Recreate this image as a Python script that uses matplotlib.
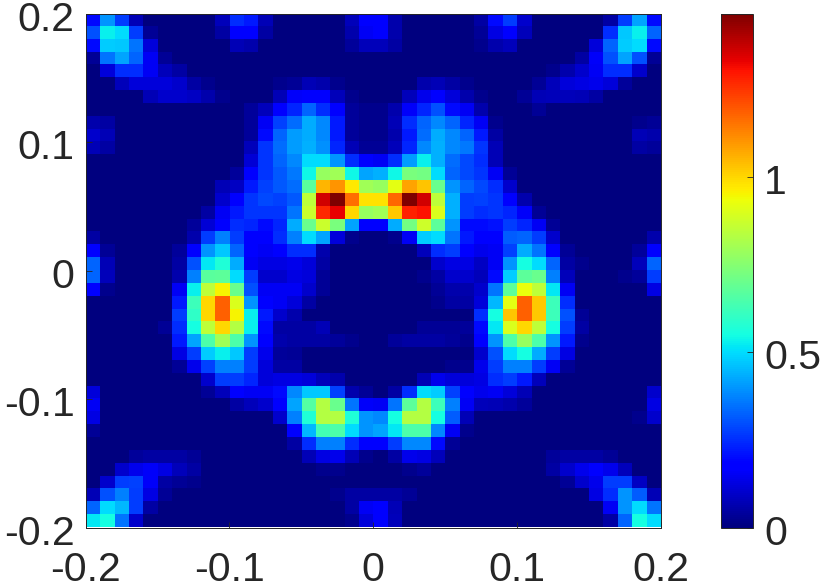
import numpy as np
import matplotlib
matplotlib.use("Agg")
import matplotlib.pyplot as plt
from matplotlib.transforms import ScaledTranslation

# Cell values in hundredths, top row first
rows = [
[20,40,27,7,0,0,0,0,0,8,25,22,7,0,0,0,0,0,8,18,18,6,0,0,0,0,0,5,20,27,10,0,0,0,0,0,5,27,42,20],
[30,53,50,27,3,0,0,0,0,5,18,18,5,0,0,0,0,0,6,15,18,6,0,0,0,0,0,3,13,17,8,0,0,0,0,0,25,47,53,33],
[20,48,47,35,12,0,0,0,0,0,7,6,0,0,0,0,0,0,4,8,8,5,0,0,0,0,0,2,6,8,0,0,0,0,0,12,33,48,50,20],
[3,35,42,33,15,3,0,0,0,0,0,0,0,0,0,0,0,0,0,0,0,0,0,0,0,0,0,0,0,0,0,0,0,0,5,16,30,42,30,3],
[0,12,25,25,15,8,5,0,0,0,0,0,0,0,0,0,0,0,0,0,0,0,0,0,0,0,0,0,0,0,0,0,2,6,10,15,25,25,10,0],
[0,0,8,12,12,12,10,5,2,0,0,0,0,2,3,7,6,2,0,0,0,0,0,6,7,5,2,0,0,0,0,3,8,12,13,14,12,4,0,0],
[0,0,0,0,7,10,10,9,6,2,0,0,0,7,16,18,18,8,2,0,0,0,8,14,18,12,6,2,0,0,3,7,8,8,7,5,0,0,0,0],
[0,0,0,0,0,0,0,0,0,0,0,4,8,18,24,33,25,18,4,2,2,6,16,24,30,20,15,6,0,0,0,3,0,0,0,0,0,0,0,0],
[6,5,0,0,0,0,0,0,0,0,0,4,15,28,34,43,38,22,4,2,2,7,25,33,38,33,24,15,2,0,0,0,0,0,0,0,0,0,2,3],
[10,7,0,0,0,0,0,0,0,0,0,4,20,33,41,43,38,22,4,2,2,6,22,34,43,38,33,22,5,0,0,0,0,0,0,0,0,0,7,6],
[7,5,0,0,0,0,0,0,0,0,0,8,26,34,41,44,39,24,7,3,3,8,24,38,44,38,36,26,7,0,0,0,0,0,0,0,0,0,5,4],
[0,0,0,0,0,0,0,0,0,0,0,11,26,33,38,50,50,40,25,17,15,25,41,53,44,34,29,25,7,0,0,0,0,0,0,0,0,0,0,0],
[0,0,0,0,0,0,0,0,0,0,4,17,26,31,36,54,78,80,54,42,44,54,73,72,50,33,29,26,15,3,0,0,0,0,0,0,0,0,0,0],
[0,0,0,0,0,0,0,0,0,7,9,22,28,31,34,67,105,110,97,80,78,92,108,103,70,40,33,29,25,10,0,0,0,0,0,0,0,0,0,0],
[0,0,0,0,0,0,0,0,0,10,17,26,29,28,31,85,136,146,116,98,98,117,146,136,85,44,27,28,26,17,6,0,0,0,0,0,0,0,0,0],
[0,0,0,0,0,0,0,0,5,15,22,26,26,26,35,87,127,133,100,78,80,102,128,130,90,44,27,25,26,24,16,3,0,0,0,0,0,0,0,0],
[0,0,0,0,0,0,0,4,11,18,25,24,20,24,43,70,87,73,42,18,18,43,72,88,68,40,20,20,21,27,24,15,3,0,0,0,0,0,0,0],
[5,0,0,0,0,0,0,6,27,37,27,18,18,25,37,50,42,12,2,0,0,2,15,48,50,35,22,18,18,32,33,27,10,0,0,0,0,0,0,6],
[17,3,0,0,0,0,4,17,40,47,33,17,15,17,25,25,6,0,0,0,0,0,0,8,25,27,17,14,15,28,43,35,18,3,0,0,0,0,4,18],
[33,7,0,0,0,0,5,30,52,57,43,15,13,13,14,12,5,0,0,0,0,0,0,0,10,13,13,9,15,40,55,50,33,5,2,0,0,0,8,33],
[33,8,0,0,0,0,6,37,67,68,50,27,10,10,13,12,3,0,0,0,0,0,0,2,5,10,10,8,20,48,68,70,37,8,0,0,0,2,4,27],
[18,2,0,0,0,0,15,53,85,95,70,30,15,15,15,10,3,0,0,0,0,0,0,0,3,6,6,10,35,68,93,85,52,15,0,0,0,0,0,13],
[0,0,0,0,0,0,22,62,100,118,90,40,18,15,12,5,0,0,0,0,0,0,0,0,2,5,5,12,45,92,118,102,62,25,0,0,0,0,0,0],
[0,0,0,0,0,0,27,60,100,118,95,53,22,10,6,0,0,0,0,0,0,0,0,0,0,0,0,25,55,103,118,102,62,30,3,0,0,0,0,0],
[0,0,0,0,0,3,25,55,85,100,83,53,20,5,5,5,7,0,0,0,0,0,0,3,3,3,4,20,52,90,100,85,55,27,5,0,0,0,0,0],
[0,0,0,0,0,0,22,42,65,80,65,40,17,6,5,5,5,4,2,0,0,4,5,5,5,4,2,17,40,65,78,65,40,22,2,0,0,0,0,0],
[0,0,0,0,0,0,13,27,48,53,47,27,14,4,3,0,0,0,0,0,0,0,0,0,0,0,0,10,30,50,55,43,27,13,0,0,0,0,0,0],
[0,0,0,0,0,0,3,14,28,37,37,27,12,5,5,0,0,0,0,0,0,0,0,0,0,2,2,14,27,37,37,27,15,3,0,0,0,0,0,0],
[0,0,0,0,0,0,0,0,10,27,27,24,12,13,13,12,8,6,0,0,0,0,0,7,14,12,12,13,25,27,22,8,0,0,0,0,0,0,0,0],
[12,0,0,0,0,0,0,0,3,8,18,15,15,20,38,47,47,28,6,3,0,5,25,50,48,28,17,14,15,12,7,0,0,0,0,0,0,0,0,10],
[15,0,0,0,0,0,0,0,0,0,5,8,10,18,42,66,83,70,35,16,15,35,68,83,62,37,15,8,7,6,4,0,0,0,0,0,0,0,0,13],
[13,0,0,0,0,0,0,0,0,0,0,0,0,10,37,57,83,83,57,40,38,55,83,83,55,32,7,0,0,0,0,0,0,0,0,0,0,0,2,10],
[3,0,0,0,0,0,0,0,0,0,0,0,0,0,17,45,63,65,50,40,42,52,65,65,38,15,2,0,0,0,0,0,0,0,0,0,0,0,0,0],
[0,0,0,0,0,0,0,0,0,0,0,0,0,0,5,25,37,37,25,18,18,27,38,38,20,3,0,0,0,0,0,0,0,0,0,0,0,0,0,0],
[0,0,0,4,5,5,5,3,0,0,0,0,0,0,0,7,13,14,7,2,0,5,14,13,8,0,0,0,0,0,0,0,4,5,5,5,3,0,0,0],
[0,0,10,14,16,13,8,5,0,0,0,0,0,0,0,0,2,2,0,0,0,0,2,4,0,0,0,0,0,0,0,0,5,10,14,17,14,8,0,0],
[0,10,27,28,16,5,3,2,0,0,0,0,0,0,0,0,0,0,0,0,0,0,0,0,0,0,0,0,0,0,0,0,0,3,10,14,27,27,9,0],
[7,30,37,27,13,3,0,0,0,0,0,0,0,0,0,0,0,2,5,5,5,5,3,0,0,0,0,0,0,0,0,0,0,0,0,13,25,40,32,7],
[33,50,45,27,5,0,0,0,0,0,0,0,0,0,0,0,0,0,5,15,17,7,0,0,0,0,0,0,0,0,0,0,0,0,0,0,15,40,50,35],
[52,55,35,10,0,0,0,0,0,0,0,0,0,0,0,0,0,0,2,12,18,8,0,0,0,0,0,0,0,0,0,0,0,0,0,0,5,33,55,50],
]
x_ticks = [-0.2, -0.1, 0, 0.1, 0.2]
y_ticks = [-0.2, -0.1, 0, 0.1, 0.2]
tick_labels = ["-0.2", "-0.1", "0", "0.1", "0.2"]
cbar_ticks = [0, 0.5, 1]
cbar_labels = ["0", "0.5", "1"]
vmax_value = 1.465

values = np.array(rows, dtype=float) / 100.0
W, H = 839, 588
plt.rcParams['font.family'] = ['Liberation Sans', 'DejaVu Sans']
fig = plt.figure(figsize=(W/100, H/100), dpi=100, facecolor='white')
FS = 29.5

def box(l, t, r, b):
    return [l/W, 1-b/H, (r-l)/W, (b-t)/H]

ax = fig.add_axes(box(85.5, 14, 660.5, 527.5))
im = ax.imshow(values, cmap='jet', vmin=0, vmax=vmax_value, extent=[-0.2, 0.2, -0.2, 0.2],
               origin='upper', aspect='auto', interpolation='nearest')
ax.set_xticks(x_ticks, tick_labels)
ax.set_yticks(y_ticks, tick_labels)
ax.tick_params(direction='in', length=4, width=0.6, color='#262626', labelcolor='#262626',
               labelsize=FS, top=False, right=False)
ax.tick_params(axis='x', pad=17)
ax.tick_params(axis='y', pad=8)
for s in ax.spines.values():
    s.set_linewidth(0.7); s.set_color('#262626')

cax = fig.add_axes(box(720.5, 14, 752.5, 527.5))
cb = fig.colorbar(im, cax=cax)
cb.set_ticks(cbar_ticks, labels=cbar_labels)
cb.ax.tick_params(direction='in', length=4, width=0.6, color='#262626', labelcolor='#262626',
                  labelsize=FS, pad=8.5)
cb.outline.set_linewidth(0.7); cb.outline.set_edgecolor('#262626')

# labels sit slightly below their ticks in the reference
shift = ScaledTranslation(0, -1.5/72, fig.dpi_scale_trans)
for t in list(ax.yaxis.get_major_ticks()) + list(cb.ax.yaxis.get_major_ticks()):
    t.label1.set_transform(t.label1.get_transform() + shift)
    t.label2.set_transform(t.label2.get_transform() + shift)
fig.savefig('out.png', dpi=100)
